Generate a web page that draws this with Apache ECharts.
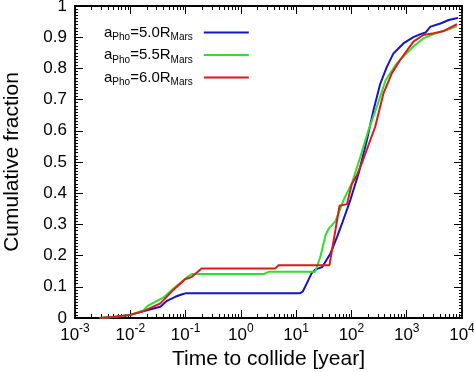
<!DOCTYPE html>
<html>
<head>
<meta charset="utf-8">
<script src="https://cdn.jsdelivr.net/npm/echarts@6/dist/echarts.min.js"></script>
<style>html,body{margin:0;padding:0;background:#fff}#c{width:474px;height:372px}</style>
</head>
<body>
<div id="c"></div>
<script>
// Radii labels of the three runs (a_Pho in units of R_Mars)
const radii = ['5.0', '5.5', '6.0'];
const colors = ['#1414c8', '#2ee02e', '#dc1a1a'];

// [time to collide (yr), cumulative fraction]
const blue = [[0.0028,0],[0.005,0.003],[0.01,0.01],[0.02,0.025],[0.035,0.036],[0.046,0.055],[0.065,0.068],[0.09,0.077],[0.1,0.079],[11.7,0.079],[13.2,0.085],[15.5,0.11],[19,0.143],[22,0.155],[29.5,0.163],[41.7,0.207],[55,0.26],[67.6,0.303],[95.5,0.378],[135,0.464],[190,0.57],[251,0.667],[331,0.75],[437,0.805],[575,0.848],[871,0.88],[1318,0.9],[1778,0.91],[2188,0.915],[2692,0.934],[4074,0.944],[5754,0.955],[7586,0.96],[8511,0.962]];
const green = [[0.0028,0],[0.005,0.003],[0.01,0.01],[0.0174,0.025],[0.021,0.04],[0.04,0.066],[0.056,0.09],[0.105,0.13],[0.13,0.141],[2.6,0.141],[3.2,0.148],[22,0.148],[27.5,0.197],[34,0.266],[39,0.287],[51,0.309],[72,0.378],[102,0.432],[145,0.517],[204,0.603],[288,0.677],[417,0.763],[661,0.816],[871,0.838],[1318,0.87],[1995,0.896],[3090,0.91],[5370,0.923],[8128,0.936]];
const red = [[0.0028,0],[0.005,0.003],[0.01,0.01],[0.0174,0.022],[0.035,0.047],[0.06,0.09],[0.098,0.124],[0.13,0.132],[0.195,0.159],[4.2,0.159],[4.8,0.169],[40,0.169],[61,0.36],[83,0.365],[102,0.43],[126,0.458],[155,0.497],[190,0.54],[269,0.613],[380,0.72],[537,0.784],[759,0.827],[1318,0.886],[1995,0.907],[3090,0.913],[4677,0.92],[5754,0.928],[8128,0.942]];
const seriesData = [blue, green, red];

// x tick decades (exponents)
const xExps = [-3, -2, -1, 0, 1, 2, 3, 4];
const xMajor = xExps.map(e => Math.pow(10, e));
const xMinor = [];
xExps.slice(0, -1).forEach(e => { for (let k = 2; k <= 9; k++) xMinor.push(k * Math.pow(10, e)); });

const FONT = 'Liberation Sans, Arial, Helvetica, sans-serif';
const chart = echarts.init(document.getElementById('c'));

function xAxisBase(pos, major, showLabel) {
  return {
    type: 'log', logBase: 10, min: 0.001, max: 10000, position: pos,
    axisLine: { show: true, onZero: false, lineStyle: { color: '#000', width: 1.8 } },
    axisTick: { show: true, inside: true, length: major ? 8 : 4, customValues: major ? xMajor : xMinor, lineStyle: { color: '#000', width: 1 } },
    minorTick: { show: false },
    splitLine: { show: false },
    axisLabel: showLabel ? {
      show: true, margin: 5, customValues: xMajor, fontFamily: FONT, color: '#000',
      formatter: v => '{b|10}{s|' + Math.round(Math.log10(v)) + '}',
      rich: {
        b: { fontSize: 17, fontFamily: FONT, color: '#000', lineHeight: 24, verticalAlign: 'middle' },
        s: { fontSize: 12, fontFamily: FONT, color: '#000', lineHeight: 12, verticalAlign: 'top' }
      }
    } : { show: false }
  };
}

const xAxes = [
  Object.assign(xAxisBase('bottom', true, true), {
    name: 'Time to collide [year]', nameLocation: 'middle', nameGap: 30,
    nameTextStyle: { fontSize: 21, fontFamily: FONT, color: '#000' }
  }),
  xAxisBase('bottom', false, false),
  xAxisBase('top', true, false),
  xAxisBase('top', false, false)
];

function yAxisBase(pos, showLabel) {
  return {
    type: 'value', min: 0, max: 1, interval: 0.1, position: pos,
    axisLine: { show: true, lineStyle: { color: '#000', width: 1.8 } },
    axisTick: { show: true, inside: true, length: 8, lineStyle: { color: '#000', width: 1 } },
    minorTick: { show: true, splitNumber: 10, length: 3, lineStyle: { color: '#000', width: 1 } },
    splitLine: { show: false },
    axisLabel: showLabel ? { show: true, margin: 8, fontSize: 17, fontFamily: FONT, color: '#000' } : { show: false }
  };
}
const yAxes = [
  Object.assign(yAxisBase('left', true), {
    name: 'Cumulative fraction', nameLocation: 'middle', nameGap: 52,
    nameTextStyle: { fontSize: 21, fontFamily: FONT, color: '#000' }
  }),
  yAxisBase('right', false)
];

chart.setOption({
  animation: false,
  backgroundColor: '#fff',
  grid: { left: 75, right: 12, top: 6, bottom: 54, containLabel: false, outerBoundsMode: 'none' },
  xAxis: xAxes,
  yAxis: yAxes,
  legend: {
    orient: 'vertical', left: 99, top: 20, align: 'right',
    itemWidth: 45, itemHeight: 2, itemGap: 5, icon: 'rect',
    data: radii.map(r => 'a_Pho=' + r + 'R_Mars'),
    formatter: name => {
      const r = name.match(/=(\S+)R_/)[1];
      return '{m|a}{s|Pho}{m|=' + r + 'R}{e|Mars}';
    },
    textStyle: {
      fontFamily: FONT, color: '#000',
      rich: {
        m: { fontSize: 15, fontFamily: FONT, color: '#000', lineHeight: 20, verticalAlign: 'middle' },
        s: { fontSize: 10, fontFamily: FONT, color: '#000', lineHeight: 10, verticalAlign: 'bottom' },
        e: { fontSize: 10, fontFamily: FONT, color: '#000', lineHeight: 10, verticalAlign: 'bottom', padding: [0, 6, 0, 0] }
      }
    }
  },
  series: radii.map((r, i) => ({
    name: 'a_Pho=' + r + 'R_Mars',
    type: 'line', xAxisIndex: 0, yAxisIndex: 0,
    data: seriesData[i],
    symbol: 'none', smooth: false,
    lineStyle: { color: colors[i], width: 2 },
    itemStyle: { color: colors[i] }
  }))
});
</script>
</body>
</html>
